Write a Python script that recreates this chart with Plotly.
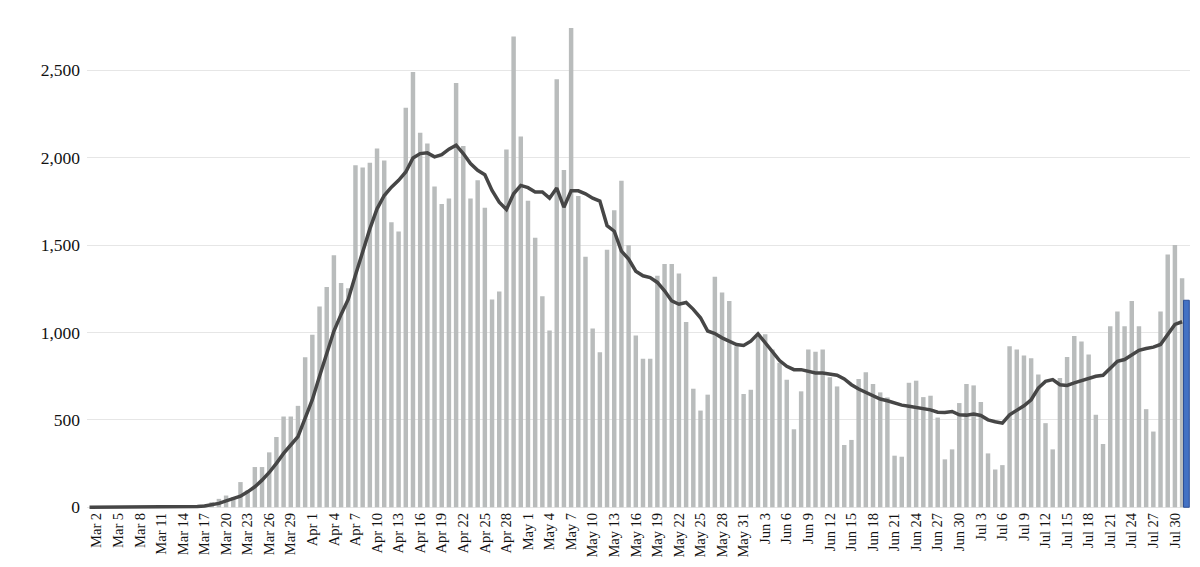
import plotly.graph_objects as go
import pandas as pd

# ---- data ----
dates = pd.date_range("2020-03-01", "2020-07-31", freq="D")

daily_mar = [0, 1, 0, 1, 1, 2, 1, 2, 3, 2, 4, 3, 5, 6, 8, 11, 15,
             29, 48, 67, 57, 144, 96, 230, 230, 314, 402, 519, 519, 580, 858]
daily_apr = [987, 1149, 1260, 1441, 1283, 1253, 1956, 1943, 1971, 2052,
             1983, 1630, 1577, 2285, 2489, 2142, 2080, 1835, 1734, 1766,
             2427, 2067, 1766, 1870, 1713, 1188, 1234, 2046, 2693, 2121]
daily_may = [1753, 1542, 1207, 1011, 2448, 1929, 2741, 1780, 1433, 1023,
             887, 1473, 1699, 1868, 1499, 983, 849, 849, 1324, 1391,
             1391, 1337, 1059, 678, 553, 644, 1318, 1228, 1180, 921, 648]
daily_jun = [672, 992, 989, 902, 826, 730, 446, 663, 902, 889,
             902, 743, 691, 356, 385, 734, 772, 705, 657, 628,
             295, 289, 712, 724, 630, 638, 513, 274, 331, 596]
daily_jul = [705, 697, 602, 308, 216, 241, 921, 902, 868, 852,
             759, 481, 331, 739, 860, 979, 948, 874, 529, 362,
             1036, 1119, 1036, 1180, 1036, 561, 433, 1119, 1446, 1500, 1310]

avg_mar = [0, 0, 0, 0, 1, 1, 1, 1, 1, 2, 2, 2, 3, 3, 4, 5, 7,
           14, 22, 36, 50, 63, 88, 117, 155, 199, 251, 308, 356, 404, 510]
avg_apr = [615, 749, 883, 1008, 1103, 1190, 1328, 1462, 1592, 1707,
           1783, 1831, 1870, 1918, 1998, 2023, 2027, 2004, 2017, 2048,
           2071, 2023, 1966, 1927, 1902, 1812, 1745, 1703, 1793, 1841]
avg_may = [1828, 1803, 1803, 1768, 1826, 1716, 1810, 1810, 1793, 1768,
           1751, 1611, 1579, 1465, 1420, 1350, 1324, 1314, 1286, 1238,
           1180, 1161, 1171, 1132, 1084, 1008, 994, 969, 950, 931, 925]
avg_jun = [950, 992, 941, 893, 839, 806, 787, 787, 778, 768,
           768, 763, 755, 734, 701, 676, 657, 634, 619, 609,
           596, 584, 578, 572, 563, 557, 544, 542, 548, 529]
avg_jul = [527, 533, 525, 500, 489, 481, 529, 557, 580, 615,
           682, 720, 730, 701, 697, 711, 724, 739, 749, 755,
           797, 835, 845, 874, 898, 908, 916, 931, 989, 1046, 1061]

latest_date = ["2020-07-31"]
latest_value = [1184]

y_ticks = [0, 500, 1000, 1500, 2000, 2500]

daily_cases = daily_mar + daily_apr + daily_may + daily_jun + daily_jul
seven_day_avg = avg_mar + avg_apr + avg_may + avg_jun + avg_jul

DAY = 86400000

fig = go.Figure()
fig.add_trace(go.Bar(
    x=dates, y=daily_cases,
    marker=dict(color="#b9bcbc", line=dict(width=0)),
    width=0.62 * DAY,
    hoverinfo="x+y", showlegend=False,
))
fig.add_trace(go.Bar(
    x=latest_date, y=latest_value,
    marker=dict(color="#4472c4", line=dict(color="#2c4f96", width=1)),
    width=0.8 * DAY, offset=0.2 * DAY,
    showlegend=False,
))
fig.add_trace(go.Scatter(
    x=dates, y=seven_day_avg, mode="lines",
    line=dict(color="#464646", width=3.5),
    showlegend=False,
))

fig.update_layout(
    width=1200, height=567,
    margin=dict(l=87, r=10, t=9, b=58),
    paper_bgcolor="white", plot_bgcolor="white",
    barmode="overlay",
    font=dict(family="Liberation Serif, Times New Roman, serif", color="#1a1a1a"),
)
fig.update_xaxes(
    type="date",
    range=["2020-02-29 15:36", "2020-08-01 02:24"],
    tick0="2020-03-02", dtick=3 * DAY,
    tickformat="%b %-d", tickangle=-90,
    tickfont=dict(size=14.5, family="Liberation Serif, serif", color="#111111"),
    showgrid=False, zeroline=False, showline=False, ticks="",
)
fig.update_yaxes(
    range=[-10, 2850],
    tickvals=y_ticks, tickformat=",",
    tickfont=dict(size=17.5, family="Liberation Serif, serif", color="#111111"),
    ticklabelstandoff=6,
    showgrid=True, gridcolor="#e6e6e6", gridwidth=1,
    zeroline=False, showline=False, ticks="",
)

fig.write_html("out.html")
